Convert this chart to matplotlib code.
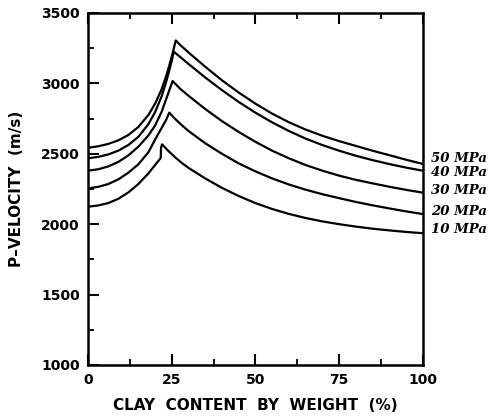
import matplotlib
matplotlib.use("Agg")
import matplotlib.pyplot as plt
from matplotlib.ticker import MultipleLocator

# clay content (%) and P-velocity (m/s) for each confining pressure
x_50 = [0, 3, 6, 9, 12, 15, 18, 20, 22, 23.5, 25, 26.2, 27.5, 30, 35, 40, 45, 50, 55, 60, 65, 70, 75, 80, 85, 90, 95, 100]
v_50 = [2543, 2553, 2570, 2595, 2633, 2690, 2775, 2855, 2960, 3065, 3190, 3305, 3273, 3220, 3118, 3022, 2935, 2856, 2785, 2724, 2672, 2628, 2590, 2556, 2522, 2490, 2458, 2428]

x_40 = [0, 3, 6, 9, 12, 15, 18, 20, 22, 23.5, 25, 25.6, 27.5, 30, 35, 40, 45, 50, 55, 60, 65, 70, 75, 80, 85, 90, 95, 100]
v_40 = [2468, 2478, 2495, 2522, 2562, 2620, 2710, 2795, 2910, 3025, 3160, 3225, 3188, 3138, 3042, 2952, 2868, 2792, 2723, 2662, 2608, 2562, 2522, 2486, 2455, 2427, 2402, 2380]

x_30 = [0, 3, 6, 9, 12, 15, 18, 20, 22, 23.5, 25.25, 27.5, 30, 35, 40, 45, 50, 55, 60, 65, 70, 75, 80, 85, 90, 95, 100]
v_30 = [2380, 2390, 2410, 2442, 2488, 2550, 2630, 2700, 2800, 2900, 3017, 2962, 2912, 2818, 2732, 2655, 2585, 2522, 2468, 2420, 2380, 2345, 2315, 2290, 2266, 2244, 2224]

x_20 = [0, 3, 6, 9, 12, 15, 18, 20, 22, 23.3, 24.25, 26, 28, 30, 35, 40, 45, 50, 55, 60, 65, 70, 75, 80, 85, 90, 95, 100]
v_20 = [2255, 2265, 2285, 2318, 2365, 2425, 2510, 2600, 2685, 2740, 2792, 2748, 2703, 2662, 2575, 2500, 2432, 2375, 2325, 2282, 2245, 2213, 2185, 2158, 2134, 2112, 2091, 2072]

x_10 = [0, 3, 6, 9, 12, 15, 18, 20, 21.7, 21.8, 22.1, 24, 26, 28, 30, 35, 40, 45, 50, 55, 60, 65, 70, 75, 80, 85, 90, 95, 100]
v_10 = [2124, 2133, 2150, 2180, 2225, 2285, 2360, 2420, 2470, 2545, 2567, 2520, 2475, 2435, 2400, 2325, 2258, 2200, 2150, 2108, 2073, 2044, 2020, 2000, 1983, 1968, 1956, 1945, 1936]

labels = ["50 MPa", "40 MPa", "30 MPa", "20 MPa", "10 MPa"]
label_y = [2470, 2364, 2236, 2087, 1959]

fig = plt.figure(figsize=(4.95, 4.16), dpi=100)
ax = fig.add_axes([0.178, 0.1226, 0.676, 0.8462])

for xs, vs in [(x_50, v_50), (x_40, v_40), (x_30, v_30), (x_20, v_20), (x_10, v_10)]:
    ax.plot(xs, vs, color="black", lw=1.6)

for lab, ly in zip(labels, label_y):
    ax.text(102.4, ly, lab, fontsize=9.5, fontweight="bold", fontstyle="italic",
            family="DejaVu Serif", va="center", ha="left", clip_on=False)

ax.set_xlim(0, 100)
ax.set_ylim(1000, 3500)
ax.xaxis.set_major_locator(MultipleLocator(25))
ax.xaxis.set_minor_locator(MultipleLocator(12.5))
ax.yaxis.set_major_locator(MultipleLocator(500))
ax.yaxis.set_minor_locator(MultipleLocator(250))
ax.tick_params(which="major", direction="in", length=8, width=1.5, top=True, right=False)
ax.tick_params(which="minor", direction="in", length=4, width=1.3, top=True, right=False)
ax.tick_params(axis="both", labelsize=10, pad=6)
for t in ax.get_xticklabels() + ax.get_yticklabels():
    t.set_fontweight("bold")
for s in ax.spines.values():
    s.set_linewidth(1.8)

ax.set_xlabel("CLAY  CONTENT  BY  WEIGHT  (%)", fontsize=11, fontweight="bold", labelpad=8)
ax.set_ylabel("P\u2013VELOCITY  (m/s)", fontsize=11, fontweight="bold", labelpad=12)

fig.savefig("out.png", dpi=100)
